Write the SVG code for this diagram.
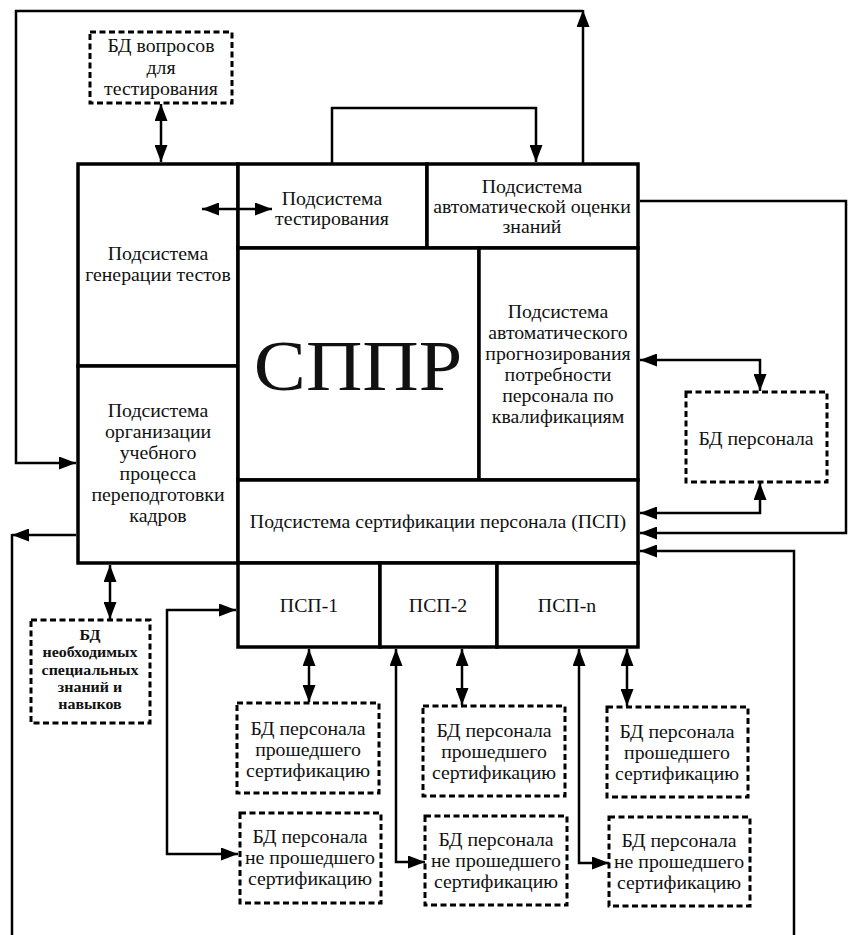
<svg xmlns="http://www.w3.org/2000/svg" width="849" height="935" viewBox="0 0 849 935">
<style>
  .box { fill: #fff; stroke: #000; stroke-width: 3.5; }
  .db { fill: #fff; stroke: #000; stroke-width: 3; stroke-dasharray: 6 3.5; }
  .c { fill: none; stroke: #000; stroke-width: 2.5; }
  text { font-family: "Liberation Serif", "Times New Roman", serif; font-size: 18px; text-anchor: middle; fill: #111; }
  text.sm { font-size: 14.5px; font-weight: bold; }
  text.big { font-size: 71px; }
</style>
<defs>
  <marker id="a" markerUnits="userSpaceOnUse" markerWidth="17" markerHeight="13" refX="17" refY="6.5" orient="auto-start-reverse">
    <path d="M0,0 L17,6.5 L0,13 z" fill="#000"/>
  </marker>
</defs>

<g id="gen"><rect class="box" x="78" y="164" width="160" height="202"/>
  <g transform="translate(158,0) scale(1.1,1) translate(-158,0)"><text x="158" y="260">Подсистема</text><text x="158" y="281">генерации тестов</text></g></g>
<g id="org"><rect class="box" x="78" y="366" width="160" height="197"/>
  <g transform="translate(158,0) scale(1.1,1) translate(-158,0)"><text x="158" y="417">Подсистема</text><text x="158" y="438">организации</text><text x="158" y="459">учебного</text>
  <text x="158" y="480">процесса</text><text x="158" y="501">переподготовки</text><text x="158" y="522">кадров</text></g></g>
<g id="test"><rect class="box" x="238" y="164" width="189" height="84"/>
  <g transform="translate(332,0) scale(1.1,1) translate(-332,0)"><text x="332" y="205">Подсистема</text><text x="332" y="225">тестирования</text></g></g>
<g id="eval"><rect class="box" x="427" y="164" width="211" height="84"/>
  <g transform="translate(532,0) scale(1.1,1) translate(-532,0)"><text x="532" y="193">Подсистема</text><text x="532" y="213">автоматической оценки</text><text x="532" y="233">знаний</text></g></g>
<g id="sppr"><rect class="box" x="238" y="248" width="241" height="232"/>
  <g transform="translate(358,0) scale(1.1,1) translate(-358,0)"><text class="big" x="358" y="390">СППР</text></g></g>
<g id="prog"><rect class="box" x="479" y="248" width="159" height="232"/>
  <g transform="translate(558,0) scale(1.1,1) translate(-558,0)"><text x="558" y="318">Подсистема</text><text x="558" y="339">автоматического</text><text x="558" y="360">прогнозирования</text>
  <text x="558" y="381">потребности</text><text x="558" y="402">персонала по</text><text x="558" y="423">квалификациям</text></g></g>
<g id="psp"><rect class="box" x="238" y="480" width="400" height="83"/>
  <g transform="translate(438,0) scale(1.1,1) translate(-438,0)"><text x="438" y="528">Подсистема сертификации персонала (ПСП)</text></g></g>
<g id="psp1"><rect class="box" x="238" y="563" width="142" height="84"/>
  <g transform="translate(309,0) scale(1.1,1) translate(-309,0)"><text x="309" y="612">ПСП-1</text></g></g>
<g id="psp2"><rect class="box" x="380" y="563" width="117" height="84"/>
  <g transform="translate(438,0) scale(1.1,1) translate(-438,0)"><text x="438" y="612">ПСП-2</text></g></g>
<g id="pspn"><rect class="box" x="497" y="563" width="141" height="84"/>
  <g transform="translate(567,0) scale(1.1,1) translate(-567,0)"><text x="567" y="612">ПСП-n</text></g></g>

<g id="dbq"><rect class="db" x="90" y="32" width="142" height="71"/>
  <g transform="translate(161,0) scale(1.1,1) translate(-161,0)"><text x="161" y="52">БД вопросов</text><text x="161" y="74">для</text><text x="161" y="95">тестирования</text></g></g>
<g id="dbpers"><rect class="db" x="686" y="392" width="141" height="90"/>
  <g transform="translate(756,0) scale(1.1,1) translate(-756,0)"><text x="756" y="445">БД персонала</text></g></g>
<g id="dbspec"><rect class="db" x="31" y="620" width="119" height="103"/>
  <g transform="translate(90,0) scale(1.1,1) translate(-90,0)"><text class="sm" x="90" y="640">БД</text><text class="sm" x="90" y="657">необходимых</text><text class="sm" x="90" y="675">специальных</text>
  <text class="sm" x="90" y="692">знаний и</text><text class="sm" x="90" y="709">навыков</text></g></g>
<g id="dbp1"><rect class="db" x="237" y="703" width="142" height="90"/>
  <g transform="translate(308,0) scale(1.1,1) translate(-308,0)"><text x="308" y="735">БД персонала</text><text x="308" y="756">прошедшего</text><text x="308" y="777">сертификацию</text></g></g>
<g id="dbn1"><rect class="db" x="240" y="813" width="141" height="90"/>
  <g transform="translate(310,0) scale(1.1,1) translate(-310,0)"><text x="310" y="843">БД персонала</text><text x="310" y="864">не прошедшего</text><text x="310" y="885">сертификацию</text></g></g>
<g id="dbp2"><rect class="db" x="423" y="706" width="142" height="90"/>
  <g transform="translate(494,0) scale(1.1,1) translate(-494,0)"><text x="494" y="737">БД персонала</text><text x="494" y="758">прошедшего</text><text x="494" y="779">сертификацию</text></g></g>
<g id="dbn2"><rect class="db" x="425" y="816" width="142" height="89"/>
  <g transform="translate(496,0) scale(1.1,1) translate(-496,0)"><text x="496" y="846">БД персонала</text><text x="496" y="867">не прошедшего</text><text x="496" y="888">сертификацию</text></g></g>
<g id="dbpn"><rect class="db" x="607" y="707" width="141" height="90"/>
  <g transform="translate(677,0) scale(1.1,1) translate(-677,0)"><text x="677" y="738">БД персонала</text><text x="677" y="759">прошедшего</text><text x="677" y="780">сертификацию</text></g></g>
<g id="dbnn"><rect class="db" x="609" y="817" width="141" height="89"/>
  <g transform="translate(679,0) scale(1.1,1) translate(-679,0)"><text x="679" y="847">БД персонала</text><text x="679" y="868">не прошедшего</text><text x="679" y="889">сертификацию</text></g></g>

<g id="connectors">
  <path class="c" d="M583,164 V10" marker-end="url(#a)"/>
  <path class="c" d="M583,11 H16 V463 H76" marker-end="url(#a)"/>
  <path class="c" d="M332,164 V108 H536 V162" marker-end="url(#a)"/>
  <path class="c" d="M202,209 H272" marker-start="url(#a)" marker-end="url(#a)"/>
  <path class="c" d="M161,104 V162" marker-start="url(#a)" marker-end="url(#a)"/>
  <path class="c" d="M640,201 H846 V533 H640" marker-end="url(#a)"/>
  <path class="c" d="M640,360 H760 V391" marker-start="url(#a)" marker-end="url(#a)"/>
  <path class="c" d="M760,483 V513 H640" marker-start="url(#a)" marker-end="url(#a)"/>
  <path class="c" d="M794,935 V551 H640" marker-end="url(#a)"/>
  <path class="c" d="M76,535 H12" marker-end="url(#a)"/>
  <path class="c" d="M12,534 V935"/>
  <path class="c" d="M110,565 V619" marker-start="url(#a)" marker-end="url(#a)"/>
  <path class="c" d="M236,610 H167 V854 H238" marker-start="url(#a)" marker-end="url(#a)"/>
  <path class="c" d="M309,649 V702" marker-start="url(#a)" marker-end="url(#a)"/>
  <path class="c" d="M396,649 V862 H425" marker-start="url(#a)" marker-end="url(#a)"/>
  <path class="c" d="M462,649 V705" marker-start="url(#a)" marker-end="url(#a)"/>
  <path class="c" d="M579,649 V863 H609" marker-start="url(#a)" marker-end="url(#a)"/>
  <path class="c" d="M627,649 V706" marker-start="url(#a)" marker-end="url(#a)"/>
</g>
</svg>
